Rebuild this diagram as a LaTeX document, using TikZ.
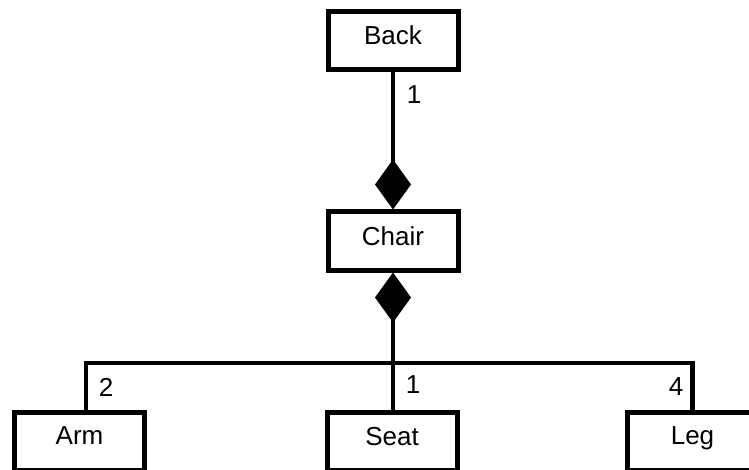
\documentclass[tikz,border=0pt]{standalone}
\usepackage{fontspec}
\setmainfont{Liberation Sans}
\usetikzlibrary{arrows.meta}
\tikzset{
  part/.style={draw, line width=5pt, minimum width=130pt, minimum height=58pt, inner sep=0pt, text depth=10pt},
  link/.style={line width=4.5pt},
  comp/.style={link, {Diamond[length=50pt,width=36pt]}-}
}
\begin{document}
\begin{tikzpicture}[x=1pt, y=1pt, font=\fontsize{26}{31}\selectfont, line join=miter]
	\useasboundingbox (0,0) rectangle (749,469);
	\clip (0,0) rectangle (749,469);
	\node[part] (back) at (393,428.5) {Back};
	\node[part] (chair) at (393,228) {Chair};
	\node[part] (arm) at (79.5,28) {Arm};
	\node[part] (seat) at (392,28) {Seat};
	\node[part] (leg) at (692.5,28) {Leg};
	\coordinate (hub) at (393,106);
	\draw[comp] (chair.north) -- (back.south);
	\draw[comp] (chair.south) -- (hub);
	\draw[link] ([xshift=6.5pt]arm.north) |- (hub) -| (leg.north);
	\draw[link] (hub) -- (seat.north -| hub);
	\node (mback) at (414,374) {1};
	\node (marm) at (106,82) {2};
	\node (mseat) at (413,84) {1};
	\node (mleg) at (676,82) {4};
\end{tikzpicture}
\end{document}
